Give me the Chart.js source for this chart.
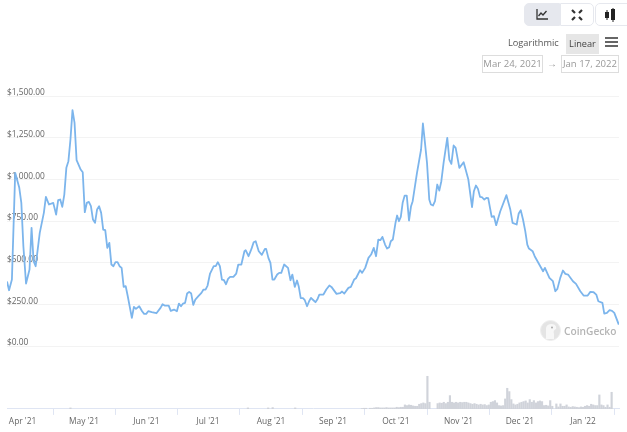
<!DOCTYPE html>
<html>
<head>
<meta charset="utf-8">
<script src="https://cdn.jsdelivr.net/npm/chart.js@4"></script>
<style>
  html, body { margin: 0; padding: 0; background: #fff; }
  body { width: 627px; height: 432px; position: relative; overflow: hidden; font-family: "Open Sans", sans-serif; }
  #priceChart { position: absolute; left: 0; top: 0; }
  .ui { position: absolute; box-sizing: border-box; white-space: nowrap; }
  .btn { top: 3px; height: 23px; border: 1px solid #e6e8ee; display: flex; align-items: center; justify-content: center; }
  .date { top: 55px; height: 18px; border: 1px solid #ddd; color: #999; font-size: 9.6px; line-height: 16px; text-align: center; }
</style>
</head>
<body>
<canvas id="priceChart" width="627" height="432"></canvas>

<div class="ui btn" style="left:524px;width:36px;background:#e6e8ee;border-radius:5px 0 0 5px;">
  <svg width="12" height="11" viewBox="0 0 12 11"><path d="M1 0V10H12M2.5 7L5 4L7 6L10.5 2" fill="none" stroke="#333" stroke-width="1.3"/></svg>
</div>
<div class="ui btn" style="left:560px;width:34px;border-radius:0 5px 5px 0;">
  <svg width="12" height="12" viewBox="0 0 12 12"><path d="M4 4L1 1M8 4L11 1M4 8L1 11M8 8L11 11" stroke="#333" stroke-width="2.2"/></svg>
</div>
<div class="ui btn" style="left:595px;width:34px;border-radius:5px 0 0 5px;padding-right:3px;">
  <svg width="11" height="14" viewBox="0 0 11 14"><rect x="0" y="4" width="4" height="6" fill="#222"/><rect x="6" y="1" width="4" height="11" fill="#222"/><path d="M2 2V12M8 0V14" stroke="#222"/></svg>
</div>

<div class="ui" style="left:508px;top:35px;font-size:9.2px;line-height:15px;color:#555;">Logarithmic</div>
<div class="ui" style="left:566px;top:34px;width:33px;height:20px;background:#e6e6e6;font-size:9.2px;line-height:19px;color:#444;text-align:center;">Linear</div>
<div class="ui" style="left:605px;top:37px;width:13px;height:10px;border-top:2px solid #666;border-bottom:2px solid #666;">
  <div style="height:2px;margin-top:2px;background:#666;"></div>
</div>

<div class="ui date" style="left:482px;width:61px;">Mar 24, 2021</div>
<div class="ui" style="left:547px;top:56px;font-size:10px;line-height:14px;color:#999;">&rarr;</div>
<div class="ui date" style="left:561px;width:58px;">Jan 17, 2022</div>

<div class="ui" style="left:540px;top:320px;width:21px;height:21px;border-radius:50%;background:#e4e4e4;border:1px solid #eee;">
  <svg width="19" height="19" viewBox="0 0 19 19"><path d="M5 18V8C5 4 8 3 11 3C14 3 16 6 15 8C13 9 12 10 13 13L13 18Z" fill="#f7f7f7"/><circle cx="11" cy="6.5" r="1" fill="#aaa"/></svg>
</div>
<div class="ui" style="left:564px;top:323px;font-size:10.2px;line-height:16px;font-weight:600;color:#b5b5b5;">CoinGecko</div>

<script>
const days = [
  0,1,2.4,4,6,7,8,9.3,11,12,13,14,16,18,19,20.5,22.6,24,25,26,27,28,29,30,31,32,33,34,36,37,38,39,40,41,42,43,44,45,46,47,48,49,50,51,52,53,54,55,56,57,58,59,61,62,63,64.6,66,67,68,69,70.7,73,75,76,77,79,80,81.6,83,84,85,86,87,88,89,90,91,92,93.5,95,96,97,98,
  99.2,101,102,103,104,105,106,107,108,109,110.6,112,113,114.5,116,116.6,118,119,119.6,120.5,121.5,123,124.5,126,126.6,127.7,128.7,129.7,130.6,132,133,134,135.4,137.3,138.5,139.4,140.6,141.7,142.5,143.5,144.6,145.5,146.6,147.6,148.5,149.7,150.7,151.6,152.6,154.6,156,157.5,158.5,161,162.7,163.7,164.8,166.8,168,169.6,170.5,172.5,173.5,175,176.6,177.9,179.2,180.3,181.4,182.4,183.4,184.7,185.7,186.7,187.5,188.5,189.8,190.6,191.5,192.4,193.3,194.3,195.3,196.4,197.4,198.2,
  200.3,202.3,203.2,204.2,205.2,206.3,207.1,208.1,209.1,210.2,211.2,212.2,213.3,215.1,216.1,217.1,218.2,219.2,221,223.1,225.4,227.2,228.1,229.1,230.1,231.1,232,233.2,234.2,235.1,236.8,237.9,239,241,244,245.9,247,249,250,251,252.1,253.2,254.2,255,256.8,257.8,261.9,262.8,265,266.7,267.9,268.9,270.3,271.6,272.8,274.1,276.5,278,280.1,281.7,283.7,285,286.6,287.9,288.9,290.9,291.8,293.1,294.4,295.6,296.7,298.9
];
const prices = [
  387,335,399,1039,949,859,599,375,459,709,509,479,679,799,895,849,859,789,875,879,835,909,1069,1109,1239,1415,1339,1115,1059,1043,803,859,865,839,759,739,819,839,799,699,695,589,619,489,479,503,503,479,469,355,359,299,169,235,223,239,209,193,193,209,203,197,229,251,243,243,211,219,209,255,239,255,259,315,325,315,247,279,299,319,339,339,363,
  435,479,479,503,479,399,395,371,403,415,415,435,489,489,569,575,539,569,589,623,629,569,547,583,583,529,499,399,399,429,439,439,489,469,395,429,355,393,359,287,287,275,239,269,289,275,263,279,309,309,339,363,355,313,317,327,315,349,355,399,407,455,439,469,529,549,589,539,639,635,655,609,585,593,629,639,739,783,749,775,859,903,903,753,839,869,
  1039,1179,1335,1219,1099,879,849,843,869,969,933,989,1099,1249,1119,1093,1203,1189,1069,1103,999,833,929,963,943,895,893,879,889,887,775,779,725,809,905,819,739,729,795,815,759,689,609,585,569,539,449,469,409,389,329,343,409,453,433,429,389,373,329,303,303,325,323,309,269,259,195,199,215,211,199,129
];
const yTicks = [0, 250, 500, 750, 1000, 1250, 1500];

const volumeDays = [
  31,117.7,127.6,129.8,140.8,
  173.4,174.4,175.4,177.4,178.4,179.4,180.4,181.4,182.4,183.4,184.4,185.4,186.4,187.4,188.4,189.4,190.4,191.4,192.4,193.4,
  194.4,195.4,196.4,197.4,198.4,199.4,200.4,201.4,202.4,203.4,204.4,205.4,206.4,
  210.4,211.4,212.4,213.4,214.4,215.4,216.4,217.4,218.4,219.4,220.4,221.4,222.4,223.4,224.4,225.4,226.4,227.4,228.4,229.4,230.4,231.4,232.4,233.4,234.4,235.4,236.4,237.4,238.4,239.4,240.4,241.4,242.4,243.4,244.4,245.4,246.4,247.4,248.4,249.4,250.4,251.4,252.4,253.4,254.4,255.4,256.4,257.4,258.4,259.4,260.4,261.4,262.4,263.4,264.4,265.4,266.4,
  268.4,269.4,270.4,271.4,272.4,273.4,274.4,275.4,276.4,277.4,278.4,279.4,280.4,281.4,282.4,283.4,284.4,285.4,286.4,287.4,288.4,289.4,290.4,291.4,292.4,293.4,294.4,295.4,296.4,297.4,298.8
];
const volumes = [
  3,3,3,4,3,
  1,2,2,2,2,3,4,4,3,3,3,4,3,3,3,3,5,4,5,5,
  12,10,12,11,9,8,8,14,16,18,16,98,20,
  16,18,17,20,16,20,40,20,18,20,18,20,19,20,20,18,16,14,16,14,12,14,12,13,10,12,20,22,25,18,10,9,10,30,62,52,28,15,12,14,18,20,22,24,18,28,20,25,18,22,24,22,10,11,9,25,8,
  15,6,15,8,8,12,6,5,7,6,5,4,6,5,8,10,8,14,12,10,10,42,12,10,5,12,5,50
];

const monthTicks = [7.6, 37.6, 68.1, 98.2, 129, 159.3, 190, 220.6, 250.6, 281.4];
const monthLabels = ["Apr '21", "May '21", "Jun '21", "Jul '21", "Aug '21", "Sep '21", "Oct '21", "Nov '21", "Dec '21", "Jan '22"];

const font = { family: "'Open Sans', sans-serif", size: 8.4 };

new Chart(document.getElementById("priceChart"), {
  data: {
    datasets: [
      {
        type: "line",
        label: "Price",
        data: days.map((d, i) => ({ x: d, y: prices[i] })),
        borderColor: "#7cb5ec",
        borderWidth: 1.8,
        borderJoinStyle: "round", // miter joins overshoot the sharp peaks
        pointRadius: 0,
        tension: 0,
        yAxisID: "y",
      },
      {
        type: "bar",
        label: "Volume",
        data: volumeDays.map((d, i) => ({ x: d, y: volumes[i] })),
        backgroundColor: "#d0d3da",
        barThickness: 1.5,
        yAxisID: "yVol",
      },
    ],
  },
  options: {
    responsive: false,
    animation: false,
    layout: { padding: { left: 7, right: 8, top: 96, bottom: 3 } },
    plugins: { legend: { display: false }, tooltip: { enabled: false } },
    scales: {
      x: {
        type: "linear",
        min: 0,
        max: 299,
        offset: false, // bar datasets switch this on otherwise
        grid: { drawOnChartArea: false, tickLength: 6, color: "#dfe5f3" },
        border: { color: "#dfe5f3" },
        afterBuildTicks: axis => {
          axis.ticks = monthTicks.map(v => ({ value: v }));
        },
        ticks: {
          autoSkip: false,
          maxRotation: 0,
          padding: 2,
          color: "#666",
          font,
          callback: (v, i) => monthLabels[i],
        },
      },
      y: {
        min: -377,
        max: 1500,
        afterBuildTicks: axis => {
          axis.ticks = yTicks.map(v => ({ value: v }));
        },
        grid: { color: "#f3f3f3", drawTicks: false },
        border: { display: false },
        ticks: {
          mirror: true,
          padding: 0,
          labelOffset: -3,
          color: "#666",
          font,
          callback: v => "$" + v.toLocaleString("en-US", { minimumFractionDigits: 2 }),
        },
      },
      yVol: {
        display: false,
        min: 0,
        max: 940,
      },
    },
  },
});
</script>
</body>
</html>
